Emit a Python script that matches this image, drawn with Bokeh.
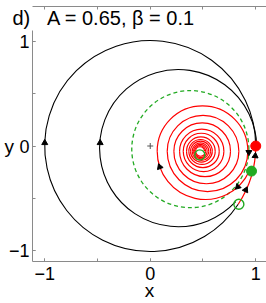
import numpy as np
from bokeh.plotting import figure
from bokeh.models import Range1d, FixedTicker, LinearAxis, Title
from bokeh.embed import file_html
from bokeh.resources import INLINE

# ---- data ----
title_text = "d)\u00a0\u00a0\u00a0A = 0.65, \u03b2 = 0.1"
major_ticks = [-1, 0, 1]
minor_ticks = [-1, -0.5, 0, 0.5, 1]
tick_labels = {-1: "\u22121", 0: "0", 1: "1"}

# fixed points
stable_x, stable_y = [1.0], [0.0]
saddle_x, saddle_y = [0.96], [-0.24]
unstable_x, unstable_y = [0.84, 0.47], [-0.557, -0.085]

# black orbits (near-circular arcs): centre x, centre y, radius, start deg, end deg
orbit_cx = [0.0, 0.265]
orbit_cy = [0.0, -0.02]
orbit_r = [1.0, 0.745]
orbit_start = [-33.5, -43.0]
orbit_end = [0.0, 1.0]

# red boundary segment on unit circle (from unstable point up to stable point)
bnd_start, bnd_end = -33.5, 0.0

# unstable limit cycle (green dashed)
cycle_cx, cycle_cy, cycle_r = 0.38, -0.03, 0.555

# red spiral: first arc from saddle, then crossings of the horizontal line
spiral_y = -0.05
first_cx, first_r, first_start = 0.523, 0.457, -25.0
left_cross = [0.066, 0.161, 0.224, 0.278, 0.313, 0.344, 0.366, 0.382, 0.398, 0.41, 0.42, 0.43]
right_cross = [0.925, 0.840, 0.761, 0.698, 0.654, 0.616, 0.588, 0.572, 0.555, 0.54, 0.525, 0.515]

# arrowheads: x, y, direction (deg)
arrow_x = [-1.0, -0.475, 0.09, 0.935, 0.83, 0.905, 0.995]
arrow_y = [0.03, 0.03, -0.2, -0.06, -0.39, -0.42, -0.095]
arrow_dir = [90, 90, 110, -90, -135, 65, 85]

FONT = "Liberation Sans"
RED = "#ff0000"
GREEN = "#22aa22"
GRAY = "#8a8a8a"

p = figure(width=266, height=303, output_backend="svg", toolbar_location=None,
           x_range=Range1d(-1.116, 1.102), y_range=Range1d(-1.104, 1.104),
           min_border_left=32, min_border_right=0, min_border_top=30, min_border_bottom=39)
p.outline_line_color = None
p.grid.visible = False
p.background_fill_color = "white"

t = Title(text=title_text, text_font=FONT, text_font_size="20px", text_font_style="normal",
          text_color="black", align="left", offset=-20, vertical_align="top", standoff=0)
p.add_layout(t, "above")

for ax in [p.xaxis[0], p.yaxis[0]]:
    ax.ticker = FixedTicker(ticks=major_ticks, minor_ticks=minor_ticks)
    ax.major_label_overrides = tick_labels
    ax.major_tick_in = 3
    ax.major_tick_out = 0
    ax.minor_tick_in = 3
    ax.minor_tick_out = 0
    ax.axis_line_color = GRAY
    ax.major_tick_line_color = GRAY
    ax.minor_tick_line_color = GRAY
    ax.major_label_text_font = FONT
    ax.major_label_text_font_size = "18px"
    ax.major_label_text_color = "black"
    ax.axis_label_text_font = FONT
    ax.axis_label_text_font_size = "19px"
    ax.axis_label_text_font_style = "normal"
    ax.axis_label_text_color = "black"

p.xaxis.axis_label = "x"
p.xaxis.major_label_standoff = 5
p.xaxis.axis_label_standoff = -3
p.yaxis.axis_label = "y"
p.yaxis.axis_label_orientation = "horizontal"
p.yaxis.major_label_standoff = 3
p.yaxis.axis_label_standoff = -8

top = LinearAxis(ticker=FixedTicker(ticks=[], minor_ticks=minor_ticks),
                 major_tick_in=0, major_tick_out=0, minor_tick_in=3, minor_tick_out=0,
                 axis_line_color=GRAY, minor_tick_line_color=GRAY, major_label_standoff=0)
p.add_layout(top, "above")

# black orbits
p.arc(x=orbit_cx, y=orbit_cy, radius=orbit_r,
      start_angle=np.deg2rad(orbit_start), end_angle=np.deg2rad(orbit_end),
      direction="clock", line_color="black", line_width=1.1)

# green dashed limit cycle
p.arc(x=[cycle_cx], y=[cycle_cy], radius=[cycle_r], start_angle=[0], end_angle=[2 * np.pi],
      line_color=GREEN, line_width=1.3, line_dash="4 3")

# red boundary segment
p.arc(x=[0.0], y=[0.0], radius=[1.0], start_angle=[np.deg2rad(bnd_start)],
      end_angle=[np.deg2rad(bnd_end)], direction="anticlock", line_color=RED, line_width=1.2)

# red spiral
sx, sr, sa, se = [first_cx], [first_r], [np.deg2rad(first_start)], [np.pi]
n = len(left_cross)
for i in range(n):
    sx.append((left_cross[i] + right_cross[i]) / 2)
    sr.append((right_cross[i] - left_cross[i]) / 2)
    sa.append(np.pi)
    se.append(0.0)
    if i + 1 < n:
        sx.append((right_cross[i] + left_cross[i + 1]) / 2)
        sr.append((right_cross[i] - left_cross[i + 1]) / 2)
        sa.append(0.0)
        se.append(np.pi)
p.arc(x=sx, y=[spiral_y] * len(sx), radius=sr, start_angle=sa, end_angle=se,
      direction="clock", line_color=RED, line_width=1.2)

# arrowheads
p.scatter(x=arrow_x, y=arrow_y, marker="triangle", size=6,
          angle=np.deg2rad(np.array(arrow_dir) - 90), fill_color="black", line_color="black")

# origin cross
p.scatter(x=[0], y=[0], marker="cross", size=6, line_color="#555555", line_width=1)

# fixed points
p.scatter(x=stable_x, y=stable_y, size=10, fill_color=RED, line_color=RED)
p.scatter(x=saddle_x, y=saddle_y, size=10, fill_color=GREEN, line_color=GREEN)
p.scatter(x=unstable_x, y=unstable_y, size=10, fill_color="white", fill_alpha=0.0,
          line_color=GREEN, line_width=1.4)

open("out.html", "w").write(file_html(p, INLINE))
